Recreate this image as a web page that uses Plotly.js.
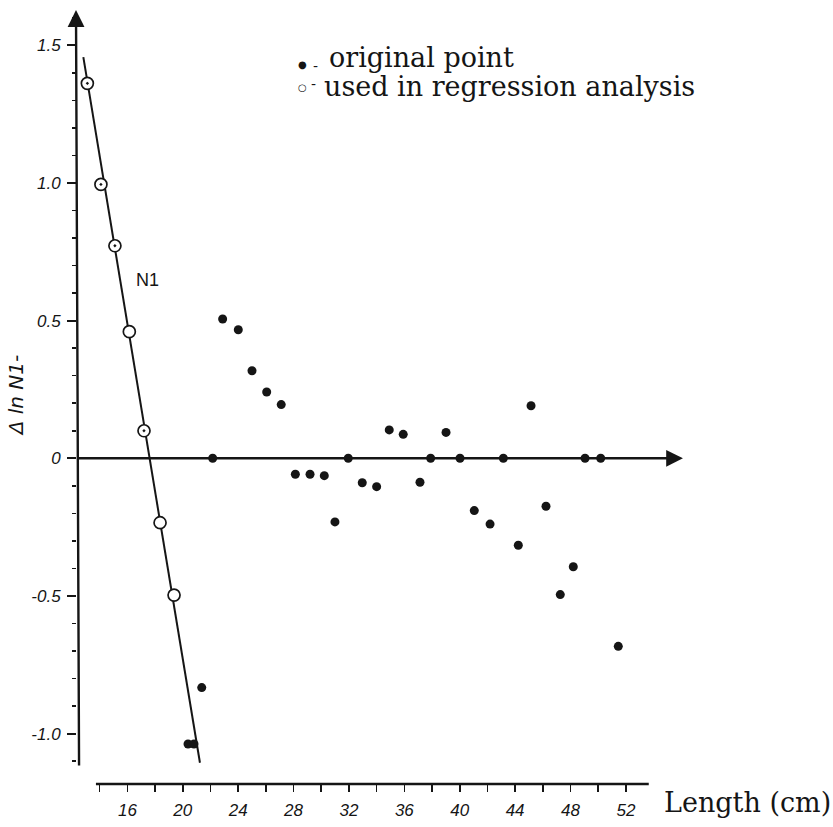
<!DOCTYPE html>
<html>
<head>
<meta charset="utf-8">
<script src="https://cdn.plot.ly/plotly-3.0.1.min.js"></script>
<style>html,body{margin:0;padding:0;background:#fff;}#chart{width:833px;height:827px;}</style>
</head>
<body>
<div id="chart"></div>
<script>
// ---- data ----
// original points (filled dots): length (cm) and Δ ln N1
const origLength = [20.38, 20.81, 21.37, 22.16, 22.88, 24.01, 25.00, 26.06, 27.11, 28.13, 29.19, 30.22, 30.99, 31.95, 32.96, 34.00, 34.91, 35.92, 37.13, 37.90, 39.01, 40.02, 41.05, 42.19, 43.15, 44.23, 45.15, 46.23, 47.26, 48.20, 49.05, 50.18, 51.45];
const origDelta  = [-1.038, -1.038, -0.833, 0.000, 0.506, 0.467, 0.318, 0.241, 0.195, -0.058, -0.058, -0.063, -0.231, 0.000, -0.089, -0.103, 0.103, 0.087, -0.087, 0.000, 0.094, 0.000, -0.190, -0.239, 0.000, -0.316, 0.191, -0.174, -0.495, -0.394, 0.000, 0.000, -0.683];
// points used in the regression analysis (open circles)
const usedLength = [13.11, 14.09, 15.10, 16.14, 17.20, 18.36, 19.37];
const usedDelta  = [1.362, 0.995, 0.772, 0.460, 0.100, -0.234, -0.497];
const usedAlsoOriginal = [true, true, true, false, true, false, false];
// fitted regression line N1 (end points)
const lineLength = [12.82, 21.24];
const lineDelta  = [1.457, -1.106];
// tick labels
const xTickVals = [14, 16, 18, 20, 22, 24, 26, 28, 30, 32, 34, 36, 38, 40, 42, 44, 46, 48, 50, 52];
const xTickText = ['', '16', '', '20', '', '24', '', '28', '', '32', '', '36', '', '40', '', '44', '', '48', '', '52'];
const yTickVals = [-1.0, -0.5, 0, 0.5, 1.0, 1.5];
const yTickText = ['-1.0', '-0.5', '0', '0.5', '1.0', '1.5'];

// ---- layout helpers (pixel -> paper) ----
const W = 833, H = 827;
const M = {l: 77, r: 93, t: 5, b: 43};
const PW = W - M.l - M.r, PH = H - M.t - M.b;
const PX = px => (px - M.l) / PW;
const PY = py => (H - M.b - py) / PH;

const ink = '#151515';
const serif = 'DejaVu Serif';
const hand = 'Liberation Sans';

const traces = [
  {x: lineLength, y: lineDelta, mode: 'lines', line: {color: ink, width: 2}, hoverinfo: 'skip', showlegend: false},
  {x: origLength, y: origDelta, mode: 'markers', name: 'original point',
   marker: {symbol: 'circle', size: 9, color: ink}, showlegend: false},
  {x: usedLength, y: usedDelta, mode: 'markers', name: 'used in regression analysis',
   marker: {symbol: usedAlsoOriginal.map(m => m ? 'circle-dot' : 'circle'), size: 12, color: '#ffffff',
            line: {color: ink, width: 1.7}}, showlegend: false}
];

const layout = {
  width: W, height: H,
  margin: M,
  paper_bgcolor: '#ffffff', plot_bgcolor: '#ffffff',
  showlegend: false,
  xaxis: {
    range: [12.362, 60.239], showgrid: false, zeroline: false, showline: false,
    tickmode: 'array', tickvals: xTickVals, ticktext: xTickText,
    ticks: 'outside', ticklen: 7, tickwidth: 1.6, tickcolor: ink,
    ticklabelstandoff: 4,
    tickfont: {family: hand, size: 17, style: 'italic', color: ink}
  },
  yaxis: {
    range: [-1.1831, 1.6466], showgrid: false, zeroline: false, showline: false,
    tickmode: 'array', tickvals: yTickVals, ticktext: yTickText,
    ticks: 'outside', ticklen: 9, tickwidth: 2, tickcolor: ink,
    ticklabelstandoff: 3,
    tickfont: {family: hand, size: 17, style: 'italic', color: ink},
    minor: {dtick: 0.1, tick0: 0, ticks: 'outside', ticklen: 4, tickwidth: 1.5, tickcolor: ink},
    title: {text: 'Δ ln N1-', standoff: 2, font: {family: 'DejaVu Sans', size: 20, style: 'italic', color: ink}}
  },
  shapes: [
    {type: 'line', xref: 'x', yref: 'paper', x0: 13.73, x1: 53.65, y0: 0, y1: 0, line: {color: ink, width: 2.5}}
  ],
  annotations: [
    // vertical axis with arrow
    {xref: 'x', yref: 'y', axref: 'x', ayref: 'y', x: 12.29, y: 1.628, ax: 12.51, ay: -1.121,
     text: '', showarrow: true, arrowhead: 2, arrowsize: 1.4, arrowwidth: 2.4, arrowcolor: ink, standoff: 0},
    // zero line with arrow
    {xref: 'x', yref: 'y', axref: 'x', ayref: 'y', x: 56.12, y: 0, ax: 12.36, ay: 0,
     text: '', showarrow: true, arrowhead: 2, arrowsize: 1.4, arrowwidth: 2.4, arrowcolor: ink, standoff: 0},
    {xref: 'paper', yref: 'paper', x: PX(147), y: PY(280), xanchor: 'center', yanchor: 'middle',
     text: 'N1', showarrow: false, font: {family: hand, size: 18, color: ink}},
    // legend
    {xref: 'paper', yref: 'paper', x: PX(302), y: PY(64), xanchor: 'center', yanchor: 'middle',
     text: '●', showarrow: false, font: {family: 'DejaVu Sans', size: 10, color: ink}},
    {xref: 'paper', yref: 'paper', x: PX(315), y: PY(66), xanchor: 'center', yanchor: 'middle',
     text: '-', showarrow: false, font: {family: 'DejaVu Sans', size: 14, color: ink}},
    {xref: 'paper', yref: 'paper', x: PX(327), y: PY(57), xanchor: 'left', yanchor: 'middle',
     text: 'original point', showarrow: false, font: {family: serif, size: 27, color: ink}},
    {xref: 'paper', yref: 'paper', x: PX(302), y: PY(87), xanchor: 'center', yanchor: 'middle',
     text: '○', showarrow: false, font: {family: 'DejaVu Sans', size: 10, color: ink}},
    {xref: 'paper', yref: 'paper', x: PX(313), y: PY(84), xanchor: 'center', yanchor: 'middle',
     text: '-', showarrow: false, font: {family: 'DejaVu Sans', size: 14, color: ink}},
    {xref: 'paper', yref: 'paper', x: PX(322), y: PY(86), xanchor: 'left', yanchor: 'middle',
     text: 'used in regression analysis', showarrow: false, font: {family: serif, size: 27, color: ink}},
    // x axis title
    {xref: 'paper', yref: 'paper', x: PX(662), y: PY(802), xanchor: 'left', yanchor: 'middle',
     text: 'Length (cm)', showarrow: false, font: {family: serif, size: 27, color: ink}}
  ]
};

Plotly.newPlot('chart', traces, layout, {displayModeBar: false, staticPlot: true});
</script>
</body>
</html>
